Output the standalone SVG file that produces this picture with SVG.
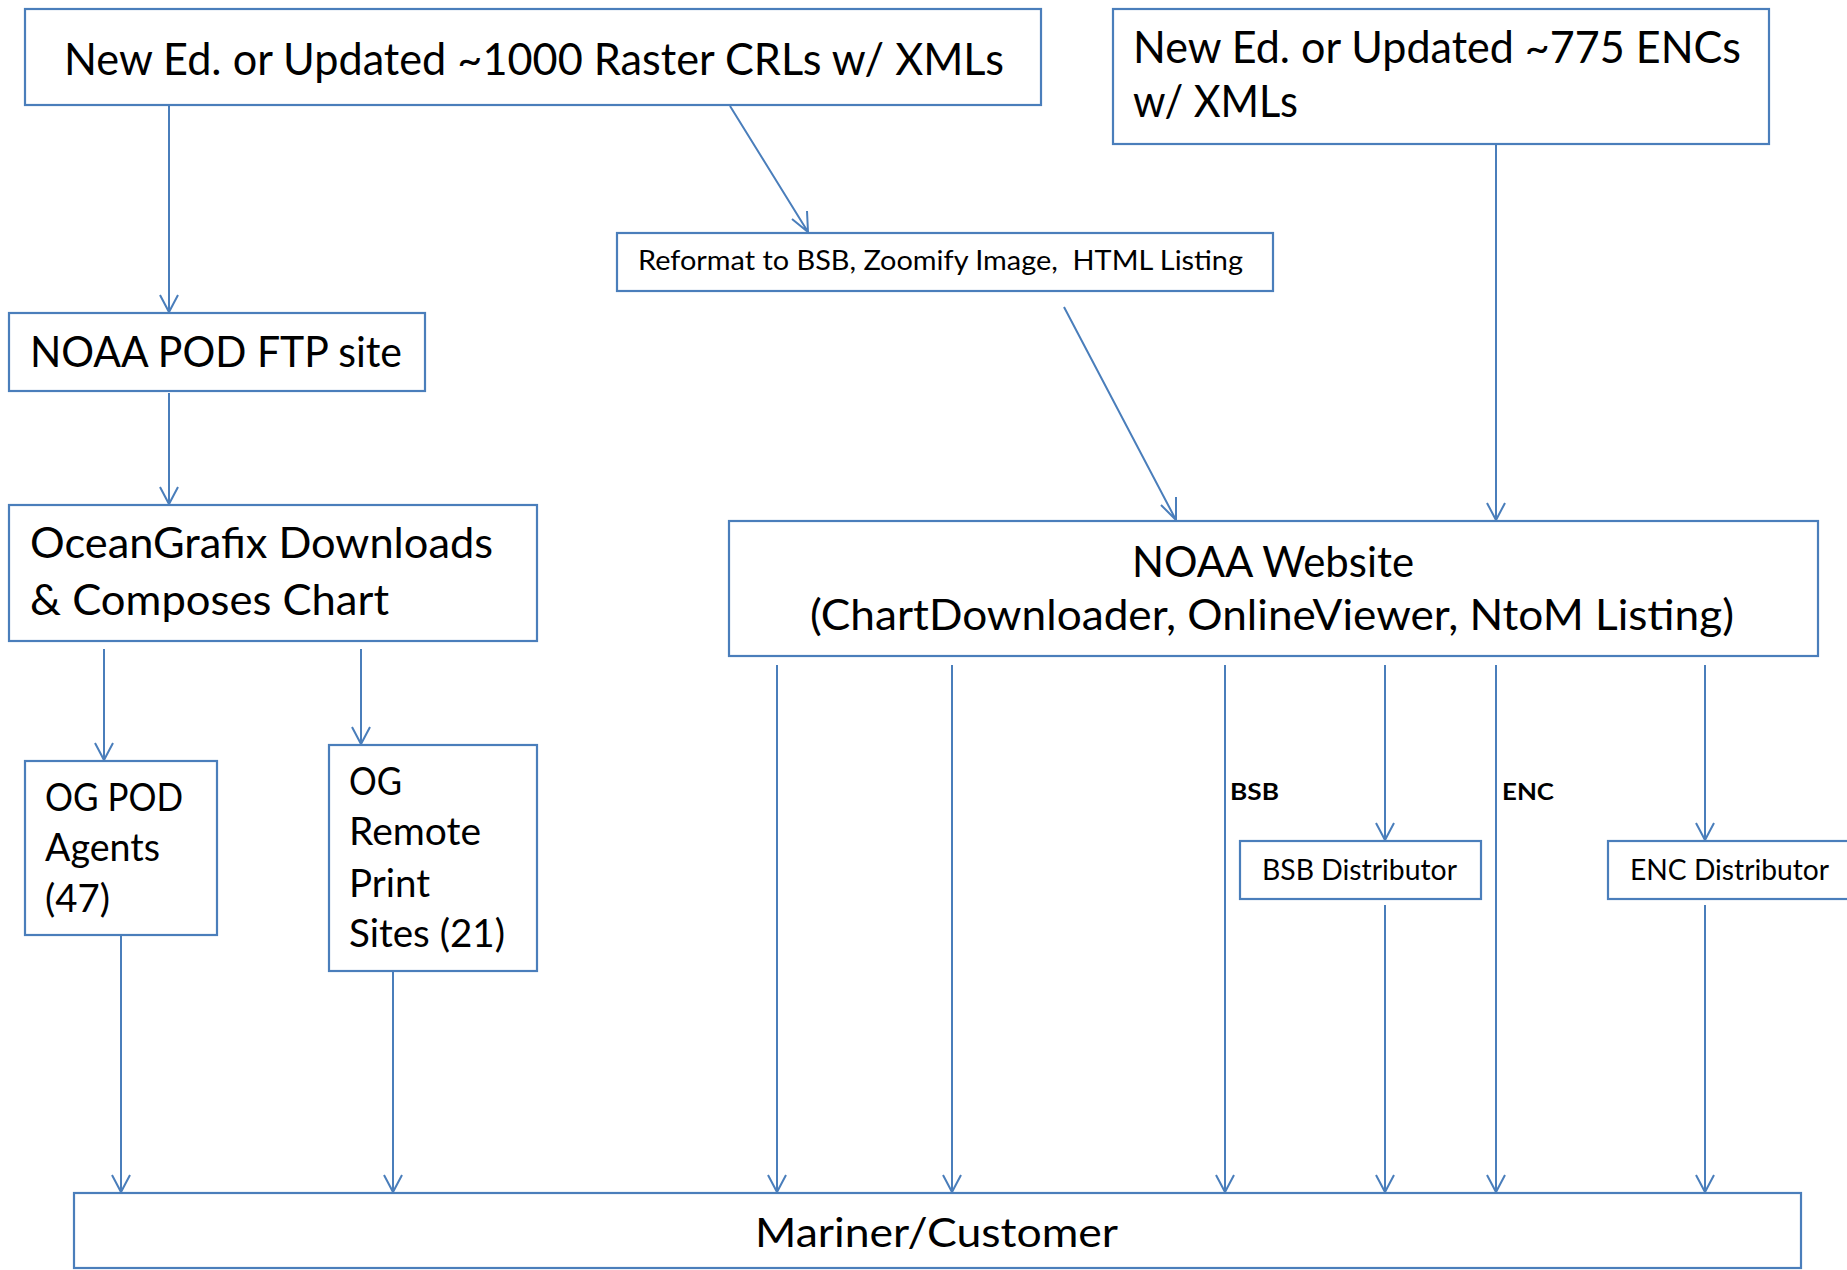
<svg xmlns="http://www.w3.org/2000/svg" width="1847" height="1270" viewBox="0 0 1847 1270">
<defs>
<style>
.box{fill:#fff;stroke:#4A7EBB;stroke-width:2.2}
.t{font-family:Lato,"Open Sans","Noto Sans",sans-serif;fill:#000}
.xl{font-size:44px}
.big{font-size:42px}
.mid{font-size:38px}
.mar{font-size:40px}
.sm{font-size:26px;white-space:pre}
.md{font-size:28px}
.lb{font-size:23px;font-weight:bold}
.c{fill:none;stroke:#4A7EBB;stroke-width:2}
</style>
</defs>
<rect width="1847" height="1270" fill="#fff"/>
<g id="connectors">
<path class="c" d="M169 106V312M160 295L169 312L178 295"/>
<path class="c" d="M730 106L808 232M792 219L808 232L807 211"/>
<path class="c" d="M1496 137V520M1487 503L1496 520L1505 503"/>
<path class="c" d="M1064 307L1176 520M1161 505L1176 520L1176 497"/>
<path class="c" d="M169 393V504M160 487L169 504L178 487"/>
<path class="c" d="M104 649V760M95 743L104 760L113 743"/>
<path class="c" d="M361 649V744M352 727L361 744L370 727"/>
<path class="c" d="M121 935V1192M112 1175L121 1192L130 1175"/>
<path class="c" d="M393 970V1192M384 1175L393 1192L402 1175"/>
<path class="c" d="M777 665V1192M768 1175L777 1192L786 1175"/>
<path class="c" d="M952 665V1192M943 1175L952 1192L961 1175"/>
<path class="c" d="M1225 665V1192M1216 1175L1225 1192L1234 1175"/>
<path class="c" d="M1385 665V840M1376 823L1385 840L1394 823"/>
<path class="c" d="M1385 905V1192M1376 1175L1385 1192L1394 1175"/>
<path class="c" d="M1496 665V1192M1487 1175L1496 1192L1505 1175"/>
<path class="c" d="M1705 665V840M1696 823L1705 840L1714 823"/>
<path class="c" d="M1705 905V1192M1696 1175L1705 1192L1714 1175"/>
<text class="t lb" x="1230" y="800" textLength="49" lengthAdjust="spacingAndGlyphs">BSB</text>
<text class="t lb" x="1502" y="800" textLength="52" lengthAdjust="spacingAndGlyphs">ENC</text>
</g>
<g id="raster">
<rect class="box" x="25" y="9" width="1016" height="96"/>
<text class="t xl" x="64" y="75" textLength="940" lengthAdjust="spacingAndGlyphs">New Ed. or Updated ~1000 Raster CRLs w/ XMLs</text>
</g>
<g id="enc">
<rect class="box" x="1113" y="9" width="656" height="135"/>
<text class="t xl" x="1133" y="63" textLength="608" lengthAdjust="spacingAndGlyphs">New Ed. or Updated ~775 ENCs</text>
<text class="t xl" x="1133" y="117" textLength="165" lengthAdjust="spacingAndGlyphs">w/ XMLs</text>
</g>
<g id="reformat">
<rect class="box" x="617" y="233" width="656" height="58"/>
<text class="t sm" x="638" y="270" textLength="605" lengthAdjust="spacingAndGlyphs" xml:space="preserve">Reformat to BSB, Zoomify Image,  HTML Listing</text>
</g>
<g id="ftp">
<rect class="box" x="9" y="313" width="416" height="78"/>
<text class="t big" x="30" y="367" textLength="372" lengthAdjust="spacingAndGlyphs">NOAA POD FTP site</text>
</g>
<g id="oceangrafix">
<rect class="box" x="9" y="505" width="528" height="136"/>
<text class="t big" x="30" y="558" textLength="463" lengthAdjust="spacingAndGlyphs">OceanGrafix Downloads</text>
<text class="t big" x="30" y="615" textLength="359" lengthAdjust="spacingAndGlyphs">&amp; Composes Chart</text>
</g>
<g id="website">
<rect class="box" x="729" y="521" width="1089" height="135"/>
<text class="t big" x="1132" y="577" textLength="282" lengthAdjust="spacingAndGlyphs">NOAA Website</text>
<text class="t big" x="810" y="630" textLength="924" lengthAdjust="spacingAndGlyphs">(ChartDownloader, OnlineViewer, NtoM Listing)</text>
</g>
<g id="agents">
<rect class="box" x="25" y="761" width="192" height="174"/>
<text class="t mid" x="45" y="811" textLength="138" lengthAdjust="spacingAndGlyphs">OG POD</text>
<text class="t mid" x="45" y="861" textLength="115" lengthAdjust="spacingAndGlyphs">Agents</text>
<text class="t mid" x="45" y="912" textLength="65" lengthAdjust="spacingAndGlyphs">(47)</text>
</g>
<g id="remote">
<rect class="box" x="329" y="745" width="208" height="226"/>
<text class="t mid" x="349" y="795" textLength="53" lengthAdjust="spacingAndGlyphs">OG</text>
<text class="t mid" x="349" y="845" textLength="132" lengthAdjust="spacingAndGlyphs">Remote</text>
<text class="t mid" x="349" y="897" textLength="81" lengthAdjust="spacingAndGlyphs">Print</text>
<text class="t mid" x="349" y="947" textLength="156" lengthAdjust="spacingAndGlyphs">Sites (21)</text>
</g>
<g id="bsbdist">
<rect class="box" x="1240" y="841" width="241" height="58"/>
<text class="t md" x="1262" y="880" textLength="195" lengthAdjust="spacingAndGlyphs">BSB Distributor</text>
</g>
<g id="encdist">
<rect class="box" x="1608" y="841" width="260" height="58"/>
<text class="t md" x="1630" y="880" textLength="199" lengthAdjust="spacingAndGlyphs">ENC Distributor</text>
</g>
<g id="mariner">
<rect class="box" x="74" y="1193" width="1727" height="75"/>
<text class="t mar" x="755" y="1247" textLength="363" lengthAdjust="spacingAndGlyphs">Mariner/Customer</text>
</g>
</svg>
